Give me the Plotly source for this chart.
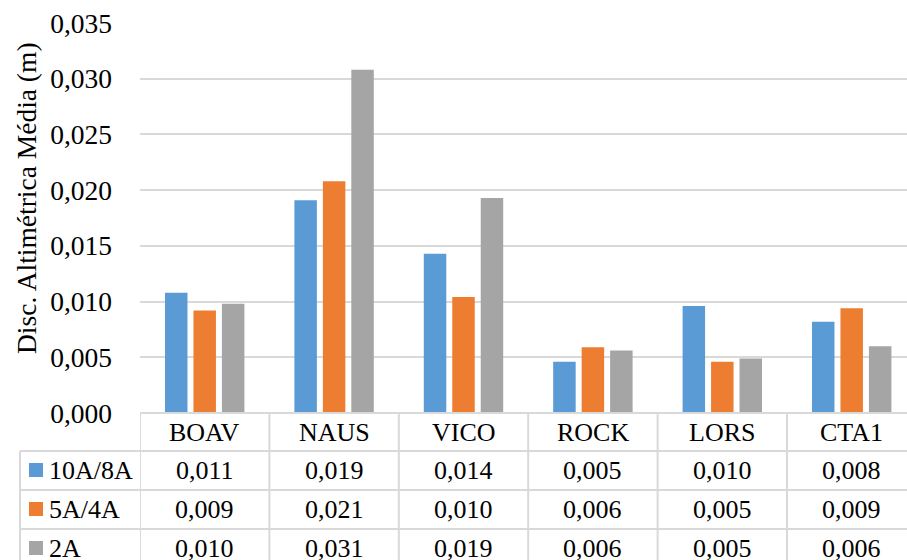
import plotly.graph_objects as go

# Stations and mean altimetric discrepancy per solution (m)
stations = ["BOAV", "NAUS", "VICO", "ROCK", "LORS", "CTA1"]
series_names = ["10A/8A", "5A/4A", "2A"]
vals_10a8a = [0.0108, 0.0191, 0.0143, 0.0046, 0.0096, 0.0082]
vals_5a4a = [0.0092, 0.0208, 0.0104, 0.0059, 0.0046, 0.0094]
vals_2a = [0.0098, 0.0308, 0.0193, 0.0056, 0.0049, 0.0060]
colors = ["#5B9BD5", "#ED7D31", "#A5A5A5"]
y_ticks = [0, 0.005, 0.010, 0.015, 0.020, 0.025, 0.030, 0.035]

W, H = 907, 560
FONT = "Liberation Serif, Times New Roman, serif"
FS_AXIS = 27.5
FS_TABLE = 26
GRID = "#D9D9D9"

series = [vals_10a8a, vals_5a4a, vals_2a]


def px_x(p):
    return p / W


def px_y(p):
    return 1 - p / H


def fmt(v):
    return f"{v:.3f}".replace(".", ",")


fig = go.Figure()
for name, vals, col in zip(series_names, series, colors):
    fig.add_trace(go.Bar(
        x=list(range(len(stations))), y=vals, name=name,
        marker=dict(color=col, line=dict(width=0)),
    ))

# plot area geometry (pixels)
left, top, base = 140, 23, 413
cat_w = 129.4
x_hi = -0.5 + (W - left) / cat_w

fig.update_layout(
    width=W, height=H,
    margin=dict(l=0, r=0, t=0, b=0, autoexpand=False),
    paper_bgcolor="white", plot_bgcolor="white",
    barmode="group", bargap=0.34, bargroupgap=0.21,
    showlegend=False,
    separators=",.",
    font=dict(family=FONT, size=FS_TABLE, color="black"),
    xaxis=dict(domain=[px_x(left), 1], range=[-0.5, x_hi],
               showticklabels=False, showgrid=False, zeroline=False,
               ticks="", fixedrange=True, automargin=False),
    yaxis=dict(domain=[px_y(base), px_y(top)], range=[0, 0.035],
               tickvals=y_ticks, tickformat=".3f", automargin=False,
               showgrid=True, gridcolor=GRID, gridwidth=2,
               zeroline=False, ticks="", ticklabelstandoff=27,
               tickfont=dict(family=FONT, size=FS_AXIS, color="black")),
)

shapes = []
annotations = []

# axis title
annotations.append(dict(
    text="Disc. Altimétrica Média (m)", textangle=-90,
    xref="paper", yref="paper", x=px_x(26), y=px_y(198),
    showarrow=False, font=dict(family=FONT, size=FS_AXIS, color="black"),
    xanchor="center", yanchor="middle",
))

# data table grid
row_lines = [413, 451, 490, 529, 568]
for yl in row_lines[1:]:
    shapes.append(dict(type="line", xref="paper", yref="paper",
                       x0=px_x(20), x1=1, y0=px_y(yl), y1=px_y(yl),
                       line=dict(color=GRID, width=2)))
shapes.append(dict(type="line", xref="paper", yref="paper",
                   x0=px_x(20), x1=px_x(20), y0=px_y(451), y1=px_y(568),
                   line=dict(color=GRID, width=2)))
for k in range(len(stations) + 1):
    shapes.append(dict(type="line", xref="x", yref="paper",
                       x0=k - 0.5, x1=k - 0.5, y0=px_y(413), y1=px_y(568),
                       line=dict(color=GRID, width=2)))
shapes.append(dict(type="line", xref="paper", yref="paper",
                   x0=px_x(left), x1=1, y0=px_y(413), y1=px_y(413),
                   line=dict(color=GRID, width=2)))

# header row: station names
for i, s in enumerate(stations):
    annotations.append(dict(text=s, xref="x", yref="paper", x=i,
                            y=px_y(432), showarrow=False,
                            xanchor="center", yanchor="middle"))

# series rows: legend key + values
row_centers = [470, 509, 548]
for name, vals, col, yc in zip(series_names, series, colors, row_centers):
    shapes.append(dict(type="rect", xref="paper", yref="paper",
                       x0=px_x(29), x1=px_x(43),
                       y0=px_y(yc + 7), y1=px_y(yc - 7),
                       fillcolor=col, line=dict(width=0)))
    annotations.append(dict(text=name, xref="paper", yref="paper",
                            x=px_x(47), y=px_y(yc), showarrow=False,
                            xanchor="left", yanchor="middle"))
    for i, v in enumerate(vals):
        annotations.append(dict(text=fmt(v), xref="x", yref="paper", x=i,
                                y=px_y(yc), showarrow=False,
                                xanchor="center", yanchor="middle"))

fig.update_layout(shapes=shapes, annotations=annotations)
fig.write_html("out.html")
